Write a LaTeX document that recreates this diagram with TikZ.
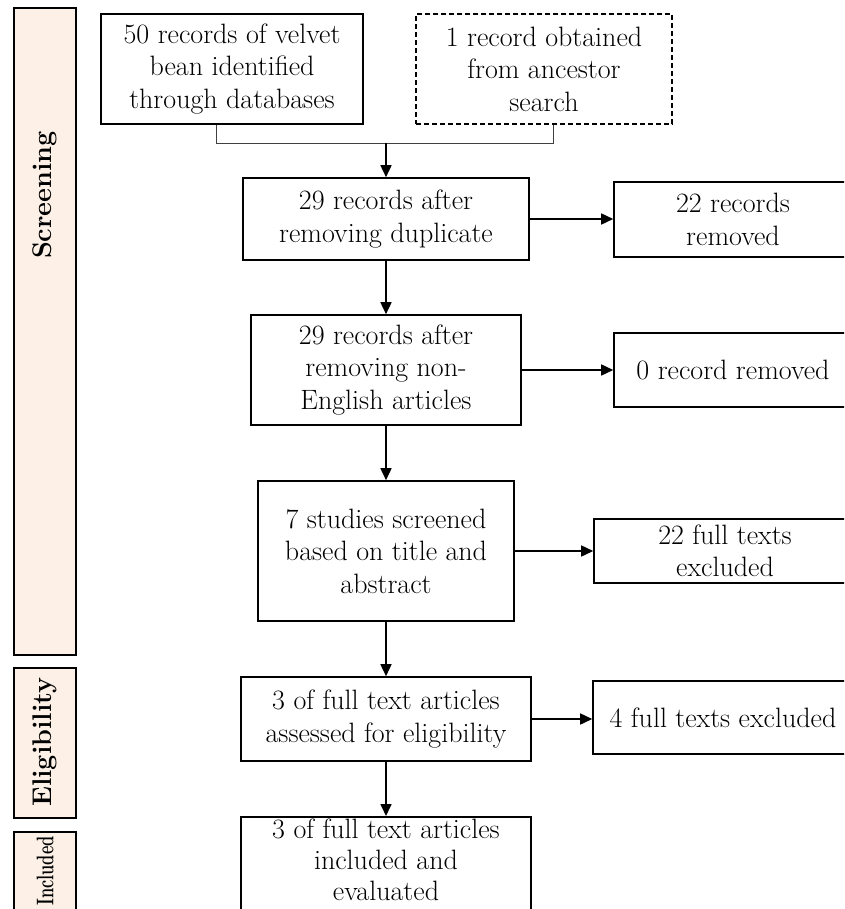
\documentclass[tikz,border=0pt]{standalone}
\usetikzlibrary{arrows.meta}
\definecolor{peach}{RGB}{253,241,231}
\begin{document}
\begin{tikzpicture}[x=1pt,y=-1pt,
  box/.style={draw, line width=1.6pt, fill=white, align=center, inner sep=0pt,
    font=\fontsize{28}{32.5}\selectfont},
  dbox/.style={box, dash pattern=on 5pt off 3pt},
  boxtext/.style={align=center, inner sep=0pt, font=\fontsize{28}{31}\selectfont},
  sidebar/.style={draw, line width=1.8pt, fill=peach, inner sep=0pt, minimum width=62pt},
  sidelab/.style={rotate=90, inner sep=0pt, font=\fontsize{27}{30}\selectfont\bfseries},
  arr/.style={line width=1.6pt, -{Triangle[length=12pt,width=11pt]}},
  bracket/.style={line width=0.9pt, draw=black!75}]
\useasboundingbox (0,0) rectangle (844,909);
\clip (0,0) rectangle (844,909);

% side bars
\node[sidebar, minimum height=647pt] (sb1) at (45,331.5) {};
\node[sidebar, minimum height=150pt] (sb2) at (45,743) {};
\node[sidebar, minimum height=110pt] (sb3) at (45,887) {};
\node[sidelab] (sl1) at (45,195) {Screening};
\node[sidelab] (sl2) at (45,742) {Eligibility};
\node[sidelab, font=\fontsize{24}{28}\selectfont\bfseries] (sl3) at (45,871)
  {\scalebox{0.68}[1]{Included}};

% main column
\node[box, minimum width=262pt, minimum height=110pt] (b1) at (232,69)
  {50 records of velvet\\bean identified\\through databases};
\node[dbox, minimum width=256pt, minimum height=110pt] (b2) at (544,69)
  {1 record obtained\\from ancestor\\search};
\node[box, minimum width=286pt, minimum height=82pt] (b3) at (386,219)
  {29 records after\\removing duplicate};
\node[box, minimum width=270pt, minimum height=110pt] (b4) at (386,370)
  {29 records after\\removing non-\\English articles};
\node[box, minimum width=256pt, minimum height=140pt] (b5) at (386,551)
  {7 studies screened\\based on title and\\abstract};
\node[box, minimum width=290pt, minimum height=84pt] (b6) at (386,719)
  {3 of full text articles\\assessed for eligibility};
\node[box, anchor=north, minimum width=290pt, minimum height=110pt] (b7) at (386,816) {};
\node[boxtext] (b7t) at (386,860)
  {3 of full text articles\\included and\\evaluated};

% right column
\node[box, minimum width=238pt, minimum height=75pt] (r1) at (733,219.5)
  {22 records\\removed};
\node[box, minimum width=238pt, minimum height=74pt] (r2) at (733,370)
  {0 record removed};
\node[box, minimum width=262pt, minimum height=64pt] (r3) at (725,551)
  {22 full texts\\excluded};
\node[box, minimum width=260pt, minimum height=73pt] (r4) at (723,717.5)
  {4 full texts excluded};

% bracket joining the two sources
\coordinate (j1) at (216,143);
\coordinate (j2) at (553,143);
\coordinate (jm) at (386,143);
\draw[bracket] (b1.south -| j1) -- (j1) -- (j2) -- (b2.south -| j2);
\draw[arr] (jm) -- (jm |- b3.north);

% vertical flow
\draw[arr] (b3.south) -- (b3.south |- b4.north);
\draw[arr] (b4.south) -- (b4.south |- b5.north);
\draw[arr] (b5.south) -- (b5.south |- b6.north);
\draw[arr] (b6.south) -- (b6.south |- b7.north);

% exclusions
\draw[arr] (b3.east) -- (b3.east -| r1.west);
\draw[arr] (b4.east) -- (b4.east -| r2.west);
\draw[arr] (b5.east) -- (b5.east -| r3.west);
\draw[arr] (b6.east) -- (b6.east -| r4.west);
\end{tikzpicture}
\end{document}
